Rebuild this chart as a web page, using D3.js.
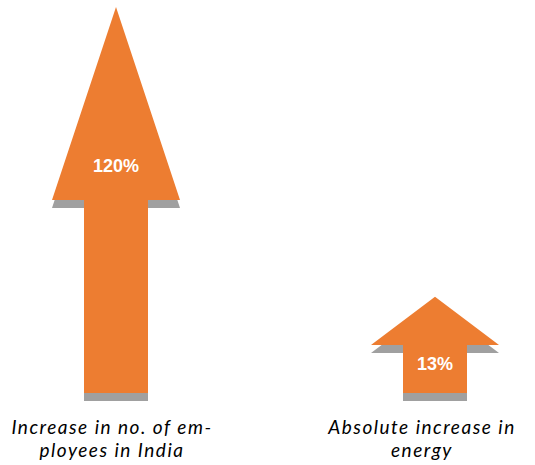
<!DOCTYPE html>
<html><head><meta charset="utf-8">
<script src="https://cdn.jsdelivr.net/npm/d3@7/dist/d3.min.js"></script>
<style>html,body{margin:0;padding:0;background:#fff;}</style>
</head><body>
<script>
const categories = [["Increase in no. of em-", "ployees in India"], ["Absolute increase in", "energy"]];
const values = [120, 13];
const valueLabels = ["120%", "13%"];

const W = 535, H = 465;
const svg = d3.select("body").append("svg").attr("width", W).attr("height", H);

const x = d3.scalePoint().domain(d3.range(values.length)).range([116, 435]);
const y = d3.scaleLinear().domain([-22.5, 120]).range([393, 7]);
const base = y(-22.5);

const headHalf = 64, shaftHalf = 32, shadowDy = 8;
function arrowPath(cx, top) {
  const h = base - top, headBase = top + h / 2;
  return `M${cx},${top}L${cx+headHalf},${headBase}L${cx+shaftHalf},${headBase}L${cx+shaftHalf},${base}L${cx-shaftHalf},${base}L${cx-shaftHalf},${headBase}L${cx-headHalf},${headBase}Z`;
}
const g = svg.selectAll("g.arrow").data(values).join("g").attr("class", "arrow");
g.append("path").attr("d", (d, i) => arrowPath(x(i), y(d))).attr("transform", `translate(0,${shadowDy})`).attr("fill", "#a0a0a0");
g.append("path").attr("d", (d, i) => arrowPath(x(i), y(d))).attr("fill", "#ed7d31");
g.append("text")
  .attr("x", (d, i) => x(i))
  .attr("y", (d, i) => { const top = y(d), h = base - top; return i === 0 ? top + h * 0.41 : top + h * 0.70; })
  .attr("dy", "0.35em").attr("text-anchor", "middle")
  .attr("fill", "#fff").attr("font-family", "Liberation Sans, Arial, sans-serif")
  .attr("font-weight", "bold").attr("font-size", 18)
  .text((d, i) => valueLabels[i]);

const lx = [112, 422];
const lines = [];
categories.forEach((ls, i) => ls.forEach((ln, j) => lines.push({ln, i, j})));
svg.selectAll("text.cat").data(lines).join("text").attr("class", "cat")
  .attr("x", d => lx[d.i]).attr("y", d => 434 + d.j * 23)
  .attr("text-anchor", "middle").attr("font-family", "Lato, sans-serif")
  .attr("font-style", "italic").attr("font-size", 19).attr("letter-spacing", 1.5).attr("fill", "#000")
  .text(d => d.ln);
</script>
</body></html>
